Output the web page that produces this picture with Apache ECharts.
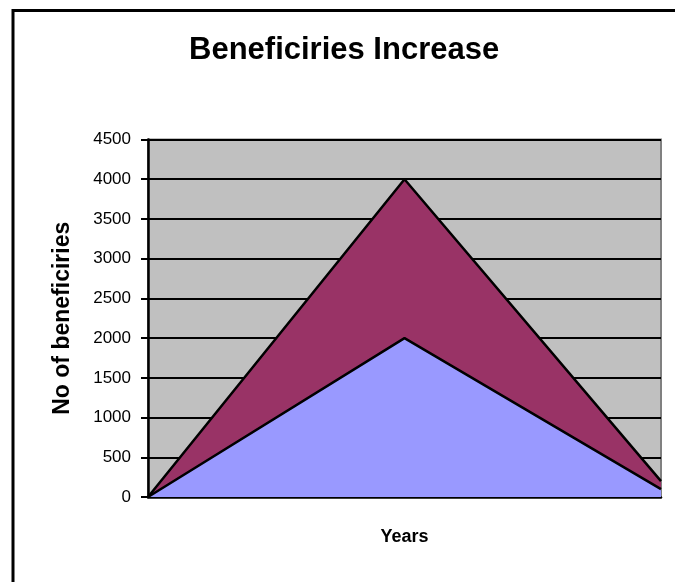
<!DOCTYPE html>
<html>
<head>
<meta charset="utf-8">
<script src="https://cdn.jsdelivr.net/npm/echarts@6/dist/echarts.min.js"></script>
<style>
html,body{margin:0;padding:0;background:#fff;}
#chart{width:675px;height:582px;}
</style>
</head>
<body>
<div id="chart"></div>
<script>
var categories = ['1', '2', '3'];
var seriesLower = [0, 2000, 100];
var seriesUpper = [0, 2000, 100];
var yTicks = [0, 500, 1000, 1500, 2000, 2500, 3000, 3500, 4000, 4500];

var chart = echarts.init(document.getElementById('chart'), null, {renderer: 'canvas'});
var font = 'Liberation Sans, Arial, sans-serif';
chart.setOption({
  animation: false,
  backgroundColor: '#ffffff',
  title: {
    text: 'Beneficiries Increase',
    left: 189,
    top: 35,
    padding: 0,
    textStyle: {fontFamily: font, fontSize: 31, fontWeight: 'bold', color: '#000'}
  },
  graphic: [{
    type: 'rect',
    shape: {x: 13, y: 10.5, width: 720, height: 640},
    style: {fill: 'none', stroke: '#000', lineWidth: 3},
    silent: true
  }],
  grid: {
    left: 148, right: 14, top: 139.5, bottom: 85,
    show: true, backgroundColor: '#C0C0C0', borderColor: '#808080', borderWidth: 2,
    containLabel: false
  },
  xAxis: {
    type: 'category',
    data: categories,
    boundaryGap: false,
    name: 'Years',
    nameLocation: 'middle',
    nameGap: 31,
    nameTextStyle: {fontFamily: font, fontSize: 18, fontWeight: 'bold', color: '#000'},
    axisLine: {show: true, lineStyle: {color: '#000', width: 2.5}},
    axisTick: {show: false},
    axisLabel: {show: false},
    splitLine: {show: false}
  },
  yAxis: {
    type: 'value',
    min: yTicks[0],
    max: yTicks[yTicks.length - 1],
    interval: yTicks[1] - yTicks[0],
    name: 'No of beneficiries',
    nameLocation: 'middle',
    nameGap: 74,
    nameTextStyle: {fontFamily: font, fontSize: 23, fontWeight: 'bold', color: '#000'},
    axisLine: {show: true, lineStyle: {color: '#000', width: 2.5}},
    axisTick: {show: true, length: 7, inside: false, lineStyle: {color: '#000', width: 2}},
    axisLabel: {
      fontFamily: font, fontSize: 17, color: '#000', margin: 17,
      formatter: function (v) { return String(v); }
    },
    splitLine: {show: true, lineStyle: {color: '#000', width: 2}}
  },
  series: [{
    name: 'Lower',
    type: 'line',
    stack: 'total',
    data: seriesLower,
    symbol: 'none',
    lineStyle: {color: '#000', width: 2.5},
    areaStyle: {color: '#9999FF', opacity: 1},
    z: 3
  }, {
    name: 'Upper',
    type: 'line',
    stack: 'total',
    data: seriesUpper,
    symbol: 'none',
    lineStyle: {color: '#000', width: 2.5},
    areaStyle: {color: '#993366', opacity: 1},
    z: 2
  }]
});
</script>
</body>
</html>
